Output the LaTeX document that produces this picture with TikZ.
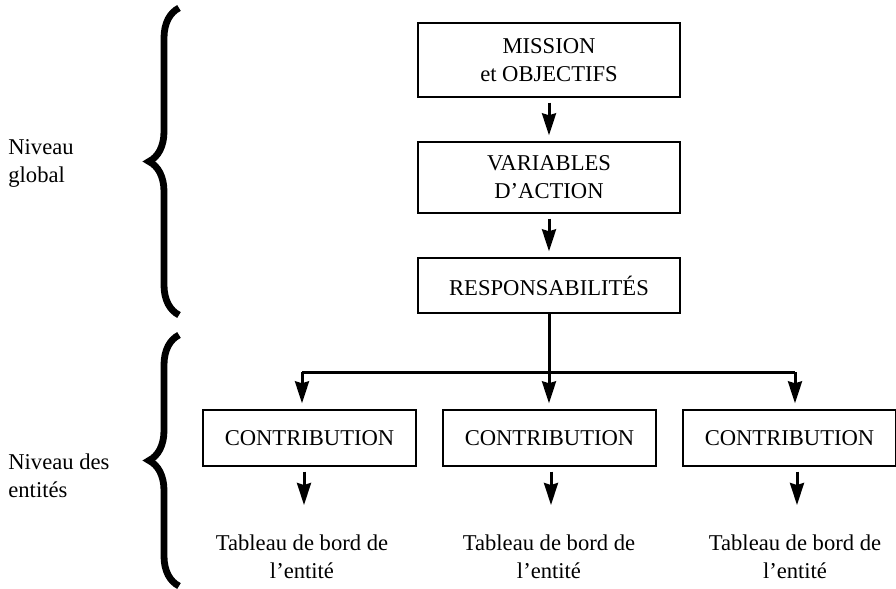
\documentclass[tikz,border=0pt]{standalone}
\usepackage{fontspec}
\setmainfont{Liberation Serif}
\usetikzlibrary{arrows.meta,decorations.pathreplacing}
\tikzset{
  boite/.style={draw, line width=0.7pt, align=center, inner sep=0pt,
    font=\fontsize{11.3}{14}\selectfont},
  texte/.style={align=center, inner sep=0pt, font=\fontsize{11.3}{14}\selectfont},
  fleche/.style={line width=1.5pt, -{Stealth[length=11pt,width=7pt,inset=1pt]},
    shorten <=2.5pt, shorten >=3pt},
  accolade/.style={decorate, decoration={brace, amplitude=15pt, aspect=0.5},
    line width=3.4pt}
}

\begin{document}
\begin{tikzpicture}[x=0.5pt,y=-0.5pt]
            \useasboundingbox (0,0) rectangle (896,589);

            % Niveau global
            \node[boite, minimum width=131pt, minimum height=37pt] (mission) at (549,60) {MISSION\\et OBJECTIFS};
            \node[boite, minimum width=131pt, minimum height=35.5pt] (variables) at (549,177.5) {VARIABLES\\D’ACTION};
            \node[boite, minimum width=131pt, minimum height=27.5pt] (resp) at (549,285.5) {RESPONSABILITÉS};

            \draw[fleche] (mission) -- (variables);
            \draw[fleche] (variables) -- (resp);

            % Repartition vers les entites
            \coordinate (embranch) at (549,372);
            \coordinate (gauche) at (302,372);
            \coordinate (droite) at (795,372);
            \draw[line width=1.5pt] (resp.south) -- (embranch);
            \draw[line width=1.5pt] (gauche) -- (droite);

            % Niveau des entites
            \foreach \nom/\x/\cx in {a/302/309.5, b/549/549.5, c/795/789.5}{
                \node[boite, minimum width=106.5pt, minimum height=28pt] (contrib\nom) at (\cx,438) {CONTRIBUTION};
                \node[texte] (tableau\nom) at (\x,557) {Tableau de bord de\\l’entité};
                \coordinate (haut\nom) at (\x,372);
                \coordinate (bas\nom) at (\x+2,505);
                \draw[fleche, shorten <=0pt] (haut\nom) -- (haut\nom |- contrib\nom.north);
                \draw[fleche, shorten >=0pt] (bas\nom |- contrib\nom.south) -- (bas\nom);
            }

            % Accolades et niveaux
            \draw[accolade] (179,315) -- (179,8);
            \draw[accolade] (179,586) -- (179,335);
            \node[texte, align=left, anchor=west] (global) at (8,163) {Niveau\\global};
            \node[texte, align=left, anchor=west] (entites) at (8,476) {Niveau des\\entités};
\end{tikzpicture}
\end{document}
